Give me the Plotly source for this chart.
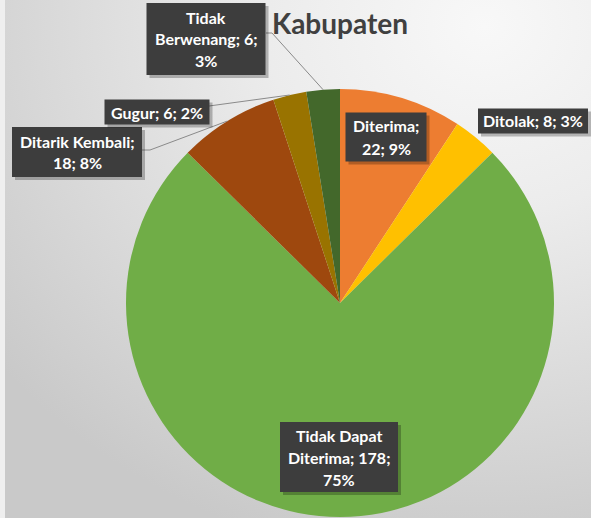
import math, base64
import plotly.graph_objects as go

# ---- data ----
categories = ["Diterima", "Ditolak", "Tidak Dapat Diterima", "Ditarik Kembali", "Gugur", "Tidak Berwenang"]
values = [22, 8, 178, 18, 6, 6]
pct_labels = ["9%", "3%", "75%", "8%", "2%", "3%"]
colors = ["#ED7D31", "#FFC000", "#70AD47", "#9E480E", "#997300", "#43682B"]
label_lines = [
    ["Diterima;", "22; 9%"],
    ["Ditolak; 8; 3%"],
    ["Tidak Dapat", "Diterima; 178;", "75%"],
    ["Ditarik Kembali;", "18; 8%"],
    ["Gugur; 6; 2%"],
    ["Tidak", "Berwenang; 6;", "3%"],
]

W, H = 591, 518
CX, CY, R = 340, 303, 214

# label box centre (px) and size
box_pos = [(386, 137), (533, 121), (339, 457), (77, 152), (157, 112), (206, 39)]
box_size = [(81, 49), (110, 25), (118, 70), (130, 50), (105, 25), (119, 72)]
# leader line: start point at box (px) and optional elbow
leaders = {3: [(142, 150), (150, 150)], 4: [(209, 106)], 5: [(266, 33), (272, 33)]}

def px(x): return x / W
def py(y): return 1 - y / H

# background gradient as svg image
svg = f'''<svg xmlns="http://www.w3.org/2000/svg" width="{W}" height="{H}">
<defs><radialGradient id="g" cx="0.82" cy="0.05" r="1.05" gradientUnits="objectBoundingBox">
<stop offset="0" stop-color="#f8f8f8"/><stop offset="0.35" stop-color="#ececec"/>
<stop offset="1" stop-color="#c9c9c9"/></radialGradient></defs>
<rect width="{W}" height="{H}" fill="url(#g)"/>
<rect x="0" y="0" width="5" height="{H}" fill="#efefef"/>
</svg>'''
src = "data:image/svg+xml;base64," + base64.b64encode(svg.encode()).decode()

fig = go.Figure(go.Pie(
    labels=categories, values=values, sort=False, direction="clockwise", rotation=0,
    marker=dict(colors=colors, line=dict(width=0)), textinfo="none", hoverinfo="label+value+percent",
    domain=dict(x=[px(CX - R), px(CX + R)], y=[py(CY + R), py(CY - R)]),
    showlegend=False,
))

shapes, annotations = [], []
total = sum(values)
cum = 0
for i, v in enumerate(values):
    mid = (cum + v / 2) / total * 2 * math.pi
    cum += v
    ex, ey = CX + R * math.sin(mid), CY - R * math.cos(mid)
    bx, by = box_pos[i]
    bw, bh = box_size[i]
    if i in leaders:
        pts = leaders[i] + [(ex, ey)]
        path = "M " + " L ".join(f"{px(a)},{py(b)}" for a, b in pts)
        shapes.append(dict(type="path", xref="paper", yref="paper", path=path,
                           line=dict(color="#8a8a8a", width=1)))
    # shadow
    shapes.append(dict(type="rect", xref="paper", yref="paper",
                       x0=px(bx - bw / 2 + 3), x1=px(bx + bw / 2 + 3),
                       y0=py(by + bh / 2 + 3), y1=py(by - bh / 2 + 3),
                       fillcolor="rgba(0,0,0,0.25)", line=dict(width=0)))
    shapes.append(dict(type="rect", xref="paper", yref="paper",
                       x0=px(bx - bw / 2), x1=px(bx + bw / 2),
                       y0=py(by + bh / 2), y1=py(by - bh / 2),
                       fillcolor="#3d3d3d", line=dict(width=0)))
    lines = label_lines[i]
    n = len(lines)
    step = 22
    for k, t in enumerate(lines):
        yy = by + (k - (n - 1) / 2) * step
        annotations.append(dict(text=f"<b>{t}</b>", x=px(bx), y=py(yy), xref="paper", yref="paper",
                                showarrow=False, xanchor="center", yanchor="middle",
                                font=dict(family="Lato", size=16, color="white")))

annotations.append(dict(text="<b>Kabupaten</b>", x=px(340), y=py(23), xref="paper", yref="paper",
                        showarrow=False, xanchor="center", yanchor="middle",
                        font=dict(family="Lato", size=28, color="#404040")))

fig.update_layout(
    width=W, height=H, margin=dict(l=0, r=0, t=0, b=0),
    paper_bgcolor="#e6e6e6", plot_bgcolor="rgba(0,0,0,0)",
    shapes=shapes, annotations=annotations,
    images=[dict(source=src, xref="paper", yref="paper", x=0, y=1, sizex=1, sizey=1,
                 xanchor="left", yanchor="top", sizing="stretch", layer="below")],
)
fig.write_html("out.html", config={"displayModeBar": False},
               post_script="document.body.style.margin='0';document.body.style.overflow='hidden';")
